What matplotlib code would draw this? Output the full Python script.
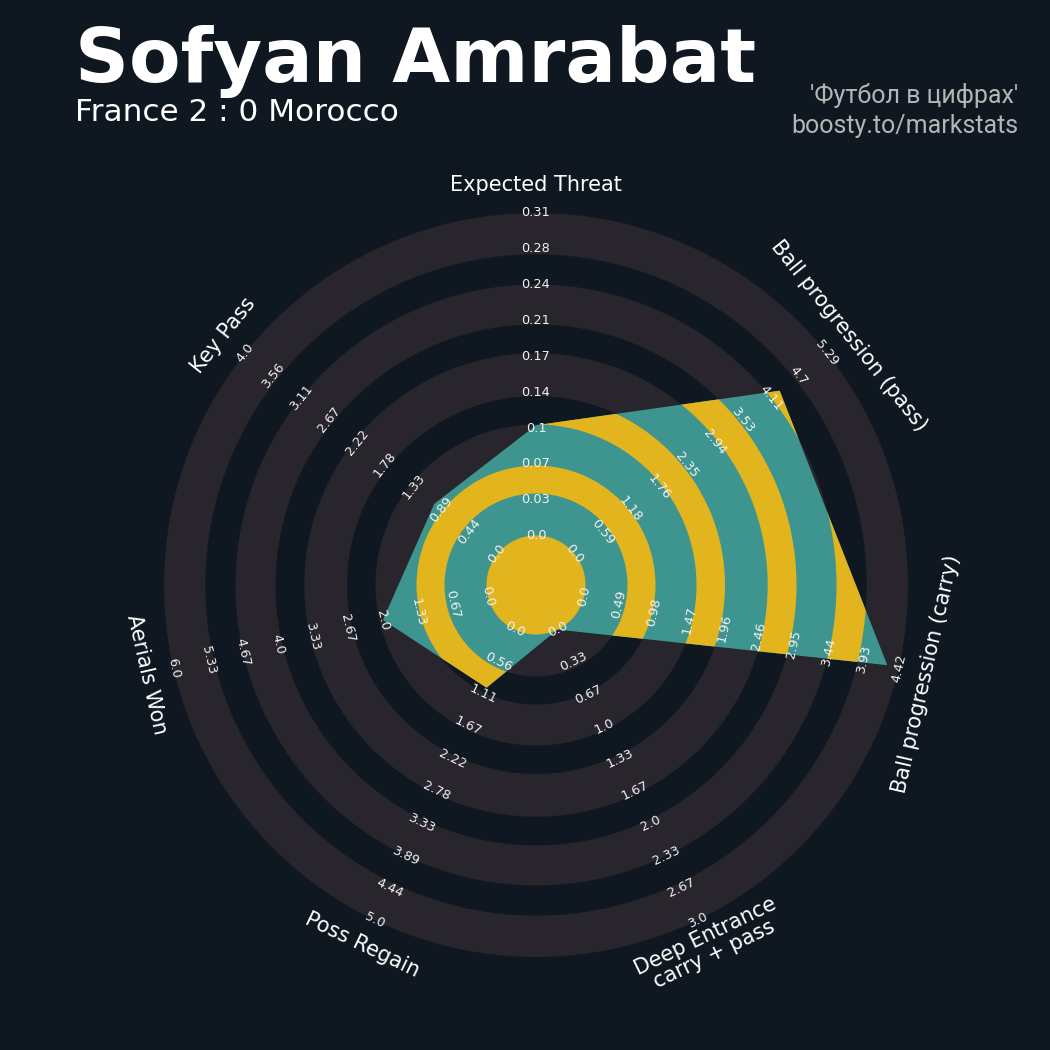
import numpy as np
import matplotlib
matplotlib.use('Agg')
import matplotlib.pyplot as plt
from matplotlib.patches import Wedge, Circle, Polygon

# ---------------- data ----------------
params = ['Expected Threat', 'Ball progression (pass)', 'Ball progression (carry)',
          'Deep Entrance\ncarry + pass', 'Poss Regain', 'Aerials Won', 'Key Pass']
min_range = [0.0, 0.0, 0.0, 0.0, 0.0, 0.0, 0.0]
max_range = [0.31, 5.29, 4.42, 3.0, 5.0, 6.0, 4.0]
values = [0.106, 4.30, 4.26, 0.0, 1.0, 2.0, 1.0]

title = 'Sofyan Amrabat'
subtitle = 'France 2 : 0 Morocco'
credit_lines = ["'Футбол в цифрах'", 'boosty.to/markstats']

# ---------------- style ----------------
BG = '#0f1820'
RING = '#28252c'
TEAL = '#3e9590'
YEL = '#e2b41e'
TXT = '#ffffff'

fig = plt.figure(figsize=(10.5, 10.5), dpi=100, facecolor=BG)
ax = fig.add_axes([0, 0, 1, 1])
ax.set_xlim(0, 1050)
ax.set_ylim(0, 1050)
ax.set_aspect('equal')
ax.axis('off')
ax.set_facecolor(BG)

cx, cy = 536, 465
C_R = 49.5          # center circle radius
OUT_R = 372.0       # outer radius
bounds = [49.5, 91.5, 119.5, 160.5, 189.0, 231.7, 260.5, 300.5, 330.7, 372.0]
n_lab = 10

n = len(params)
thetas = 90 - np.arange(n) * 360.0 / n

# background rings
for i in range(0, len(bounds), 2):
    ax.add_patch(Wedge((cx, cy), bounds[i + 1], 0, 360,
                       width=bounds[i + 1] - bounds[i],
                       facecolor=RING, edgecolor='none', zorder=1))

# radar polygon
vals = np.array(values)
mins = np.array(min_range)
maxs = np.array(max_range)
radii = C_R + (vals - mins) / (maxs - mins) * (OUT_R - C_R)
px = cx + radii * np.cos(np.deg2rad(thetas))
py = cy + radii * np.sin(np.deg2rad(thetas))
poly = Polygon(np.column_stack([px, py]), closed=True, facecolor=TEAL,
               edgecolor='none', zorder=2)
ax.add_patch(poly)

for i in range(1, len(bounds) - 1, 2):
    w = Wedge((cx, cy), bounds[i + 1], 0, 360, width=bounds[i + 1] - bounds[i],
              facecolor=YEL, edgecolor='none', zorder=3)
    ax.add_patch(w)
    w.set_clip_path(poly)

ax.add_patch(Circle((cx, cy), C_R, facecolor=YEL, edgecolor='none', zorder=3))

# range labels and param labels
for i in range(n):
    th = thetas[i]
    rot = (th % 180) - 90
    c, s = np.cos(np.deg2rad(th)), np.sin(np.deg2rad(th))
    labs = np.linspace(min_range[i], max_range[i], n_lab)
    for k in range(n_lab):
        r = C_R + k * (OUT_R - C_R) / (n_lab - 1)
        ax.text(cx + r * c, cy + r * s, str(round(float(labs[k]), 2)),
                rotation=rot, rotation_mode='anchor', ha='center', va='center',
                fontsize=9.3, color='#f2f2f2', zorder=5)
    r = 400
    ax.text(cx + r * c, cy + r * s, params[i], rotation=rot, rotation_mode='anchor',
            ha='center', va='center', fontsize=15, color=TXT, zorder=5,
            multialignment='center', linespacing=1.0)

# titles
fig.text(75 / 1050, 1 - 82 / 1050, title, fontsize=54, fontweight='bold',
         color=TXT, ha='left', va='baseline')
fig.text(75 / 1050, 1 - 121 / 1050, subtitle, fontsize=22.4, color=TXT,
         ha='left', va='baseline')
fig.text(1018 / 1050, 1 - 103.5 / 1050, credit_lines[0], fontsize=18,
         family='Roboto', color='#b5b5b5', ha='right', va='baseline')
fig.text(1018 / 1050, 1 - 132.7 / 1050, credit_lines[1], fontsize=18,
         family='Roboto', color='#b5b5b5', ha='right', va='baseline')

fig.savefig('out.png', dpi=100, facecolor=BG)
